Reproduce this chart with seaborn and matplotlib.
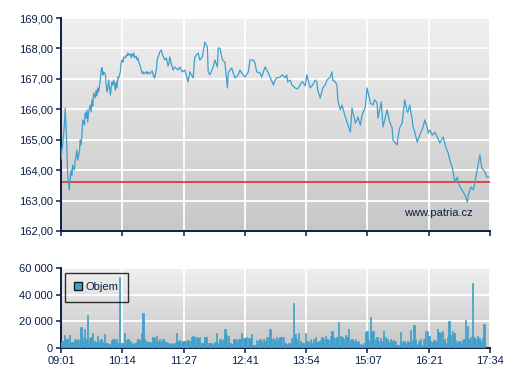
import numpy as np
import pandas as pd
import seaborn as sns
from matplotlib import pyplot as plt
from matplotlib.colors import LinearSegmentedColormap
from matplotlib.patches import Patch
from matplotlib.ticker import FuncFormatter

sns.set_theme(style="white")
plt.rcParams["font.family"] = ["Liberation Sans", "DejaVu Sans"]

# price trace: minutes after 09:01 and price
price_min = [
    0, 1, 2, 4, 5, 6, 7, 8, 10, 11, 12, 13, 14, 16, 17, 18, 19, 20, 22, 23,
    24, 25, 26, 28, 29, 30, 31, 32, 33, 35, 36, 37, 38, 39, 41, 42, 43, 44, 45, 47,
    48, 49, 50, 51, 53, 54, 55, 56, 57, 59, 60, 61, 62, 63, 65, 66, 67, 68, 69, 71,
    72, 73, 74, 75, 77, 78, 79, 80, 81, 83, 84, 85, 86, 87, 88, 90, 91, 92, 93, 94,
    96, 97, 98, 99, 100, 102, 103, 104, 105, 106, 108, 109, 110, 111, 112, 114, 115, 116, 117, 118,
    120, 121, 122, 123, 124, 126, 127, 128, 129, 130, 132, 134, 136, 140, 142, 145, 148, 152, 154, 158,
    160, 164, 166, 169, 172, 175, 176, 178, 182, 184, 187, 188, 190, 193, 196, 199, 200, 202, 204, 208,
    212, 214, 216, 220, 224, 226, 230, 232, 234, 238, 240, 244, 248, 250, 254, 256, 258, 262, 265, 268,
    270, 271, 274, 276, 280, 283, 286, 288, 289, 292, 294, 298, 301, 304, 306, 307, 310, 313, 316, 318,
    322, 324, 325, 328, 330, 331, 334, 336, 340, 342, 346, 348, 352, 354, 355, 358, 360, 364, 366, 370,
    373, 375, 378, 379, 383, 385, 387, 390, 393, 396, 397, 399, 402, 403, 405, 408, 409, 411, 414, 415,
    417, 420, 421, 423, 426, 429, 433, 435, 438, 439, 441, 444, 447, 450, 453, 457, 460, 463, 465, 468,
    469, 471, 474, 475, 477, 481, 483, 486, 487, 489, 490, 493, 495, 497, 499, 501, 503, 505, 507, 509,
    512,
]
price = [
    164.33, 164.66, 164.83, 165.48, 166.04, 165.48, 164.66, 163.84, 163.35, 163.74,
    164.00, 163.81, 164.17, 164.00, 164.33, 164.46, 164.66, 164.33, 164.60, 164.99,
    164.83, 165.15, 165.65, 165.48, 165.88, 165.71, 165.98, 165.58, 165.91, 166.14,
    165.91, 166.31, 166.11, 166.54, 166.37, 166.63, 166.44, 166.70, 166.57, 166.96,
    167.29, 167.36, 167.13, 167.23, 167.16, 166.80, 166.57, 166.70, 166.96, 166.47,
    166.70, 166.90, 166.80, 166.96, 166.63, 166.90, 166.70, 167.06, 167.03, 167.23,
    167.55, 167.62, 167.55, 167.72, 167.69, 167.78, 167.75, 167.85, 167.78, 167.82,
    167.69, 167.82, 167.75, 167.85, 167.69, 167.75, 167.62, 167.69, 167.55, 167.49,
    167.29, 167.19, 167.23, 167.16, 167.19, 167.23, 167.16, 167.23, 167.19, 167.16,
    167.23, 167.26, 167.16, 167.06, 167.03, 167.29, 167.62, 167.72, 167.78, 167.88,
    167.95, 167.82, 167.75, 167.69, 167.62, 167.69, 167.55, 167.42, 167.49, 167.72,
    167.49, 167.29, 167.39, 167.29, 167.39, 167.23, 167.29, 166.90, 167.23, 167.03,
    167.72, 167.85, 167.62, 167.72, 168.21, 168.05, 167.23, 167.13, 167.39, 167.62,
    167.39, 168.01, 168.01, 167.62, 167.55, 166.70, 167.19, 167.29, 167.36, 167.03,
    167.13, 167.29, 167.19, 167.06, 167.23, 167.62, 167.62, 167.52, 167.23, 167.19,
    167.06, 167.39, 167.19, 167.06, 166.80, 166.96, 167.03, 167.06, 167.13, 167.03,
    167.13, 166.90, 166.96, 166.80, 166.70, 166.67, 166.80, 166.90, 166.90, 166.77,
    167.13, 166.70, 166.80, 166.96, 166.90, 166.63, 166.37, 166.70, 166.80, 166.96,
    167.06, 167.23, 166.96, 166.90, 166.80, 166.31, 165.98, 166.14, 165.75, 165.58,
    165.25, 166.04, 165.55, 165.65, 165.75, 165.48, 165.81, 166.08, 166.70, 166.21,
    166.14, 166.31, 166.21, 165.71, 166.24, 165.42, 165.65, 165.98, 165.58, 165.39,
    164.99, 164.92, 164.83, 165.09, 165.39, 165.55, 165.81, 166.31, 165.91, 165.91,
    166.14, 165.65, 165.42, 165.25, 164.92, 165.15, 165.42, 165.65, 165.39, 165.22,
    165.32, 165.15, 165.25, 165.09, 164.89, 165.09, 164.76, 164.56, 164.33, 164.07,
    163.91, 163.61, 163.77, 163.61, 163.45, 163.28, 163.18, 162.95, 163.18, 163.35,
    163.45, 163.35, 163.61, 163.91, 164.23, 164.50, 164.10, 164.00, 163.94, 163.77,
    163.77,
]
prev_close = 163.60

# volume in thousands, one value per 2-minute slot from 09:01
volume_k = [
    4.7, 5.0, 9.6, 6.5, 6.8, 10.0, 4.7, 4.5, 6.4, 6.0,
    6.4, 6.0, 16.0, 8.4, 14.6, 6.8, 24.5, 7.5, 8.0, 10.9,
    5.0, 4.5, 8.9, 5.0, 6.4, 4.7, 10.4, 3.5, 4.0, 3.2,
    6.0, 7.0, 6.4, 6.8, 3.5, 53.0, 4.0, 3.8, 10.9, 6.0,
    6.4, 5.0, 4.7, 3.0, 3.8, 4.5, 6.4, 6.0, 10.9, 26.5,
    6.4, 5.0, 4.7, 4.5, 4.7, 8.4, 7.2, 8.9, 5.5, 6.4,
    5.0, 6.4, 5.5, 4.7, 3.5, 3.0, 4.0, 3.2, 3.8, 10.9,
    5.0, 6.0, 4.7, 5.5, 5.0, 5.5, 6.0, 5.5, 8.4, 8.9,
    8.0, 8.4, 7.5, 8.4, 4.0, 3.5, 8.4, 8.0, 4.0, 3.5,
    4.0, 3.2, 4.5, 11.6, 3.5, 6.4, 6.0, 6.4, 14.6, 9.6,
    9.0, 3.5, 3.2, 6.4, 7.0, 6.0, 6.8, 6.4, 10.9, 7.7,
    7.7, 8.0, 7.5, 7.7, 10.4, 2.5, 2.0, 6.0, 5.0, 6.8,
    5.5, 6.4, 5.0, 8.4, 8.4, 14.0, 6.4, 7.5, 6.0, 8.0,
    7.0, 8.4, 8.0, 8.4, 3.5, 3.2, 4.0, 3.5, 7.5, 34.0,
    10.5, 6.4, 10.9, 5.5, 4.0, 3.5, 10.9, 5.0, 4.7, 6.4,
    4.0, 6.4, 8.0, 4.5, 5.0, 6.0, 8.4, 6.4, 9.0, 7.0,
    6.0, 8.9, 12.8, 8.4, 7.5, 8.4, 19.5, 9.0, 8.4, 7.0,
    9.6, 8.0, 14.6, 6.0, 7.0, 5.0, 6.4, 4.7, 5.5, 3.0,
    2.5, 3.5, 12.0, 13.0, 6.0, 23.0, 13.0, 12.5, 6.4, 8.0,
    5.0, 7.4, 5.5, 12.8, 8.0, 6.4, 4.7, 7.0, 5.0, 6.0,
    5.0, 2.0, 2.5, 12.0, 4.7, 5.5, 4.0, 5.0, 4.7, 13.3,
    6.0, 17.0, 7.0, 3.0, 5.0, 6.4, 2.5, 7.0, 12.6, 12.6,
    9.0, 5.5, 4.7, 6.0, 5.0, 14.6, 12.0, 11.0, 12.5, 6.4,
    4.0, 8.0, 20.0, 10.0, 12.5, 11.0, 6.0, 4.7, 5.0, 4.5,
    6.0, 7.0, 20.7, 16.3, 6.4, 8.0, 48.5, 8.4, 7.0, 9.0,
    7.4, 5.5, 7.5, 17.8,
]
time_labels = ["09:01", "10:14", "11:27", "12:41", "13:54", "15:07", "16:21", "17:34"]
session_minutes = 513

NAVY = "#0b1d48"
BLUE = "#3f9fcd"
BG = LinearSegmentedColormap.from_list("bg", ["#c7c7c7", "#f0f0f0"])

prices = pd.DataFrame({"minute": price_min, "price": price})
volumes = pd.DataFrame({"minute": np.arange(len(volume_k)) * 2, "volume": np.array(volume_k) * 1000})

fig = plt.figure(figsize=(5.07, 3.80), dpi=100)
ax_p = fig.add_axes([61 / 507, 149 / 380, 429 / 507, 213 / 380])
ax_v = fig.add_axes([61 / 507, 32 / 380, 429 / 507, 80 / 380])

for ax in (ax_p, ax_v):
    ax.imshow(np.linspace(0, 1, 256).reshape(-1, 1), cmap=BG, origin="lower", aspect="auto",
              extent=[0, 1, 0, 1], transform=ax.transAxes, zorder=0)

sns.lineplot(data=prices, x="minute", y="price", ax=ax_p, color=BLUE, linewidth=0.9, zorder=3)
ax_p.axhline(prev_close, color="#e3201c", linewidth=1.1, zorder=2)

sns.barplot(data=volumes, x="minute", y="volume", ax=ax_v, native_scale=True, width=0.8,
            color=BLUE, saturation=1, errorbar=None, zorder=3)
for bar in ax_v.patches:
    bar.set_edgecolor(BLUE)
    bar.set_linewidth(0.5)

ticks = np.linspace(0, session_minutes, len(time_labels))
for ax in (ax_p, ax_v):
    ax.set_xlim(0, session_minutes)
    ax.set_xticks(ticks)
    ax.set_axisbelow(True)
    ax.grid(True, color="white", linewidth=1.3)
    ax.set_xlabel("")
    ax.set_ylabel("")
    for side in ("top", "right"):
        ax.spines[side].set_visible(False)
    for side in ("left", "bottom"):
        ax.spines[side].set_color(NAVY)
        ax.spines[side].set_linewidth(1.4)
    ax.tick_params(axis="both", colors=NAVY, labelcolor=NAVY, labelsize=8, length=3.5, width=1.1,
                   direction="out", left=True, bottom=True, pad=2.5)

ax_p.set_ylim(162, 169)
ax_p.set_yticks(range(162, 170))
ax_p.yaxis.set_major_formatter(FuncFormatter(lambda v, _: f"{v:.2f}".replace(".", ",")))
ax_p.set_xticklabels([])
ax_p.text(0.879, 0.085, "www.patria.cz", transform=ax_p.transAxes, ha="center", va="center",
          fontsize=8, color=NAVY)

ax_v.set_ylim(0, 60000)
ax_v.set_yticks([0, 20000, 40000, 60000])
ax_v.yaxis.set_major_formatter(FuncFormatter(lambda v, _: f"{int(v):,}".replace(",", " ")))
ax_v.set_xticklabels(time_labels)

leg = ax_v.legend(handles=[Patch(facecolor=BLUE, edgecolor="#1a1a1a", linewidth=1.0, label="Objem")],
                  loc="upper left", bbox_to_anchor=(0.009, 0.94), borderaxespad=0, fontsize=8,
                  frameon=True, fancybox=False, handlelength=0.7, handleheight=0.7,
                  handletextpad=0.35, borderpad=0.85)
leg.get_frame().set_edgecolor("black")
leg.get_frame().set_linewidth(1.0)
leg.get_frame().set_facecolor("none")
for txt in leg.get_texts():
    txt.set_color(NAVY)

fig.savefig("out.png", dpi=100)
